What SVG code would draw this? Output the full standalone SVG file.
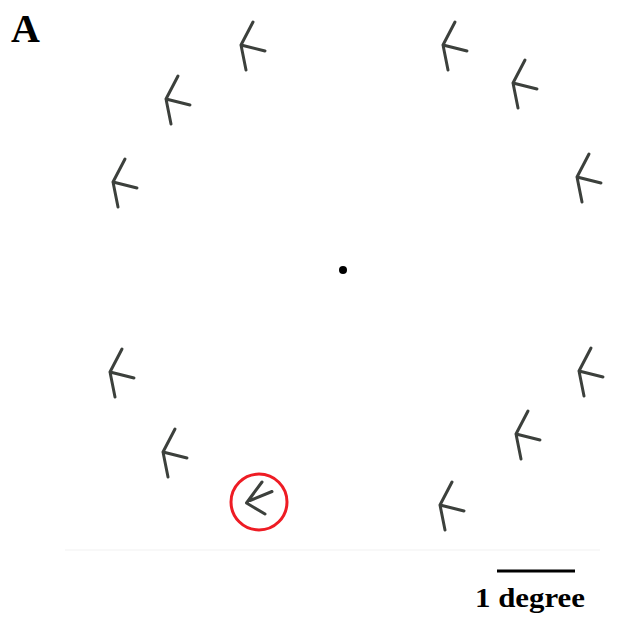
<svg xmlns="http://www.w3.org/2000/svg" xmlns:xlink="http://www.w3.org/1999/xlink" width="622" height="622" viewBox="0 0 622 622">
<style>
.g{fill:none;stroke:#3c403c;stroke-width:3;stroke-linecap:round;stroke-linejoin:round}
.lbl{font-family:"Liberation Serif","Times New Roman",serif;font-weight:bold;fill:#000}
</style>
<defs>
<path id="arr" class="g" d="M12,-23 L0,0 L5,25 M0,0 L24,6"/>
</defs>
<rect width="622" height="622" fill="#fff"/>
<text class="lbl" x="11" y="42" font-size="40">A</text>
<line x1="65" y1="550" x2="600" y2="550" stroke="#f6f6f6" stroke-width="1.5"/>
<g id="stimuli">
<g id="s1"><use xlink:href="#arr" x="241" y="45"/></g>
<g id="s2"><use xlink:href="#arr" x="166" y="99"/></g>
<g id="s3"><use xlink:href="#arr" x="113" y="182"/></g>
<g id="s4"><use xlink:href="#arr" x="110" y="372"/></g>
<g id="s5"><use xlink:href="#arr" x="163" y="452"/></g>
<g id="s7"><use xlink:href="#arr" x="443" y="45"/></g>
<g id="s8"><use xlink:href="#arr" x="513" y="83"/></g>
<g id="s9"><use xlink:href="#arr" x="577" y="177"/></g>
<g id="s10"><use xlink:href="#arr" x="579" y="371"/></g>
<g id="s11"><use xlink:href="#arr" x="516" y="434"/></g>
<g id="s12"><use xlink:href="#arr" x="440" y="505"/></g>
<g id="target">
<path class="g" d="M262,482 L246.5,503 L265,514 M250,500.5 L272,491.5"/>
<circle cx="259" cy="502" r="28" fill="none" stroke="#ee1c24" stroke-width="3"/>
</g>
</g>
<g id="fixation"><circle cx="343" cy="270" r="4" fill="#000"/></g>
<g id="scale">
<line x1="497" y1="571" x2="575" y2="571" stroke="#000" stroke-width="3"/>
<text class="lbl" x="475" y="607" font-size="28" textLength="110" lengthAdjust="spacingAndGlyphs">1 degree</text>
</g>
</svg>
